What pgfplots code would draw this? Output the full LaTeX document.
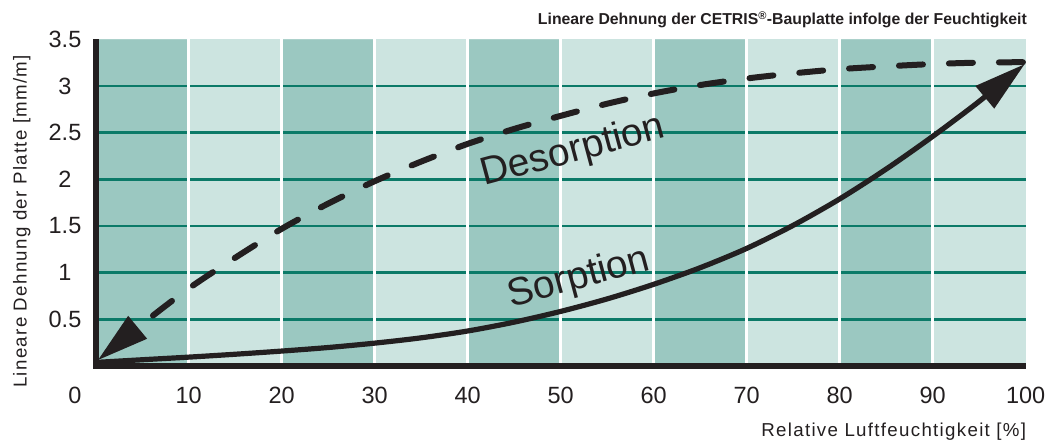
\documentclass[border=0pt]{standalone}
\usepackage{fontspec}
\setmainfont{Liberation Sans}
\usepackage{pgfplots}
\pgfplotsset{compat=1.18}
\usetikzlibrary{arrows.meta}
\definecolor{ink}{HTML}{231F20}
\definecolor{bandD}{HTML}{9BC8C1}
\definecolor{bandL}{HTML}{CCE4E0}
\definecolor{gline}{HTML}{0B7A68}
\newfontfamily\labfont[LetterSpace=7]{Liberation Sans}
\begin{document}
\begin{tikzpicture}
\useasboundingbox (-95.7pt,-75pt) rectangle (968.3pt,366pt);
\begin{axis}[
  at={(0,0)}, anchor=south west,
  scale only axis, width=930pt, height=326.7pt,
  xmin=0, xmax=100, ymin=0, ymax=3.5,
  axis lines*=left,
  axis line style={draw=none},
  axis background/.style={fill=bandL},
  xtick={10,20,...,100}, xticklabels={10,20,30,40,50,60,70,80,90,100},
  ytick={0.5,1,1.5,2,2.5,3,3.5}, yticklabels={0.5,1,1.5,2,2.5,3,3.5},
  major tick length=0pt,
  ticklabel style={font=\fontsize{23.5}{28}\selectfont, text=ink},
  xticklabel style={anchor=center, yshift=-29pt},
  yticklabel style={anchor=center, xshift=-30.7pt},
  clip=false,
]
% dark bands
\addplot[draw=none, fill=bandD, forget plot] coordinates {(0,0)(0,3.5)(10,3.5)(10,0)} \closedcycle;
\addplot[draw=none, fill=bandD, forget plot] coordinates {(20,0)(20,3.5)(30,3.5)(30,0)} \closedcycle;
\addplot[draw=none, fill=bandD, forget plot] coordinates {(40,0)(40,3.5)(50,3.5)(50,0)} \closedcycle;
\addplot[draw=none, fill=bandD, forget plot] coordinates {(60,0)(60,3.5)(70,3.5)(70,0)} \closedcycle;
\addplot[draw=none, fill=bandD, forget plot] coordinates {(80,0)(80,3.5)(90,3.5)(90,0)} \closedcycle;
% horizontal grid
\draw[gline, line width=2.4pt] (axis cs:0,0.5) -- (axis cs:100,0.5);
\draw[gline, line width=2.4pt] (axis cs:0,1.0) -- (axis cs:100,1.0);
\draw[gline, line width=2.4pt] (axis cs:0,1.5) -- (axis cs:100,1.5);
\draw[gline, line width=2.4pt] (axis cs:0,2.0) -- (axis cs:100,2.0);
\draw[gline, line width=2.4pt] (axis cs:0,2.5) -- (axis cs:100,2.5);
\draw[gline, line width=2.4pt] (axis cs:0,3.0) -- (axis cs:100,3.0);
% white vertical separators
\draw[white, line width=2.6pt] (axis cs:10,0) -- (axis cs:10,3.5);
\draw[white, line width=2.6pt] (axis cs:20,0) -- (axis cs:20,3.5);
\draw[white, line width=2.6pt] (axis cs:30,0) -- (axis cs:30,3.5);
\draw[white, line width=2.6pt] (axis cs:40,0) -- (axis cs:40,3.5);
\draw[white, line width=2.6pt] (axis cs:50,0) -- (axis cs:50,3.5);
\draw[white, line width=2.6pt] (axis cs:60,0) -- (axis cs:60,3.5);
\draw[white, line width=2.6pt] (axis cs:70,0) -- (axis cs:70,3.5);
\draw[white, line width=2.6pt] (axis cs:80,0) -- (axis cs:80,3.5);
\draw[white, line width=2.6pt] (axis cs:90,0) -- (axis cs:90,3.5);
% Sorption
\addplot[ink, line width=5.2pt, smooth, -{Triangle[length=52pt,width=28pt]}] coordinates {
 (0.3,0.04) (5,0.067) (10,0.095) (15,0.126) (20,0.16) (25,0.198) (30,0.245) (35,0.302)
 (40,0.375) (45,0.47) (50,0.585) (55,0.719) (60,0.875) (65,1.053) (70,1.26) (75,1.507)
 (80,1.79) (85,2.11) (90,2.46) (95,2.835) (99.9,3.235)};
% Desorption
\addplot[ink, line width=6pt, smooth, line cap=round, dash pattern=on 24pt off 26pt,
  -{Triangle[length=52pt,width=28pt]}] coordinates {
 (99.7,3.255) (95,3.25) (90,3.235) (85,3.21) (80,3.18) (75,3.135) (70,3.08) (65,3.01)
 (60,2.92) (55,2.81) (50,2.68) (45,2.54) (40,2.38) (35,2.19) (30,1.98) (25,1.74)
 (20,1.47) (15,1.16) (10,0.83) (5,0.45) (0.2,0.06)};
% axis lines
\draw[ink, line width=6pt, line join=miter] (axis cs:0,3.5) -- (axis cs:0,0) -- (axis cs:100,0);
% texts
\node[anchor=base, rotate=15, font=\fontsize{39}{44}\selectfont, text=ink, inner sep=0pt] at (axis cs:51.62,2.19) {Desorption};
\node[anchor=base, rotate=15, font=\fontsize{39}{44}\selectfont, text=ink, inner sep=0pt] at (axis cs:52.26,0.833) {Sorption};
\node[anchor=center, font=\fontsize{23.5}{28}\selectfont, text=ink] at (axis cs:0,0) [xshift=-20.7pt, yshift=-29pt] {0};
\node[anchor=base east, inner sep=0pt, font=\bfseries\fontsize{15.8}{18}\selectfont, text=ink] at (rel axis cs:1,0) [xshift=1.3pt, yshift=341.6pt] {Lineare Dehnung der CETRIS\textsuperscript{®}-Bauplatte infolge der Feuchtigkeit};
\node[anchor=base east, inner sep=0pt, text=ink] at (rel axis cs:1,0) [xshift=0.6pt, yshift=-70pt] {\labfont\fontsize{18.7}{22}\selectfont Relative Luftfeuchtigkeit [\%]};
\node[anchor=base west, rotate=90, inner sep=0pt, text=ink] at (axis cs:-7.44,-0.2357) {\labfont\fontsize{18.7}{22}\selectfont Lineare Dehnung der Platte [mm/m]};
\end{axis}
\end{tikzpicture}
\end{document}
